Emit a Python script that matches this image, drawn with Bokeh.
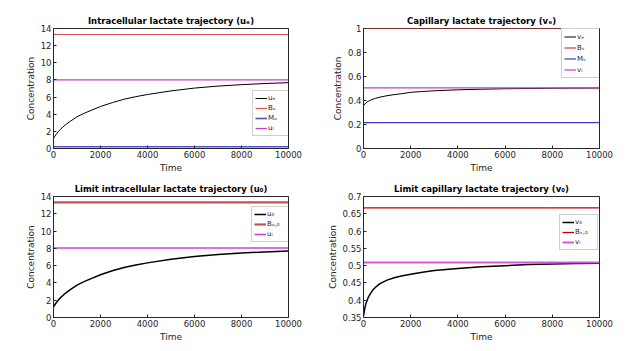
from bokeh.plotting import figure
from bokeh.layouts import gridplot
from bokeh.models import FixedTicker, Legend, LegendItem
from bokeh.embed import file_html
from bokeh.resources import INLINE

# ---- data ----
time = [0, 50, 100, 200, 300, 400, 500, 700, 1000, 1300, 1600, 2000, 2500,
        3000, 3500, 4000, 5000, 6000, 7000, 8000, 9000, 10000]
u_e = [1.15, 1.4, 1.6, 1.95, 2.25, 2.5, 2.75, 3.15, 3.7, 4.1, 4.45, 4.9, 5.35,
       5.75, 6.05, 6.3, 6.72, 7.05, 7.28, 7.45, 7.58, 7.68]
B_u, M_u, u_l = 13.3, 0.2, 8.0
v_e = [0.355, 0.37, 0.38, 0.393, 0.403, 0.411, 0.418, 0.428, 0.44, 0.449, 0.456,
       0.468, 0.475, 0.481, 0.485, 0.489, 0.494, 0.498, 0.5, 0.502, 0.503, 0.504]
B_v, M_v, v_l = 1.0, 0.215, 0.505
u_0 = [1.2, 1.45, 1.65, 2.0, 2.3, 2.55, 2.8, 3.2, 3.75, 4.15, 4.5, 4.95, 5.4,
       5.78, 6.08, 6.32, 6.74, 7.06, 7.3, 7.46, 7.59, 7.7]
B_u0, u_l0 = 13.33, 8.04
v_0 = [0.355, 0.375, 0.39, 0.408, 0.42, 0.43, 0.437, 0.448, 0.458, 0.465, 0.47,
       0.475, 0.481, 0.486, 0.489, 0.492, 0.497, 0.5, 0.503, 0.505, 0.506, 0.507]
B_v0, v_l0 = 0.667, 0.509

x_ticks = [0, 2000, 4000, 6000, 8000, 10000]
y_ticks_u = [0, 2, 4, 6, 8, 10, 12, 14]
y_ticks_v = [0, 0.2, 0.4, 0.6, 0.8, 1]
y_ticks_v0 = [0.35, 0.4, 0.45, 0.5, 0.55, 0.6, 0.65, 0.7]

FONT = "DejaVu Sans"
TXT = "#262626"


def make_fig(title, w, h, bl, br, bt, bb, yr, yticks):
    p = figure(width=w, height=h, x_range=(0, 10000), y_range=yr,
               output_backend="svg", toolbar_location=None,
               min_border_left=bl, min_border_right=br,
               min_border_top=bt, min_border_bottom=bb,
               title=title)
    p.title.text_font = FONT
    p.title.text_font_size = "8.5px"
    p.title.text_font_style = "bold"
    p.title.text_color = "#000000"
    p.title.align = "center"
    p.title.standoff = 5
    p.title.offset = 0
    p.grid.visible = False
    p.outline_line_color = TXT
    p.outline_line_alpha = 1
    p.background_fill_color = "white"
    p.border_fill_color = "white"
    p.xaxis.ticker = FixedTicker(ticks=x_ticks)
    p.yaxis.ticker = FixedTicker(ticks=yticks)
    p.yaxis.major_label_overrides = {t: f"{t:g}" for t in yticks}
    p.xaxis.major_label_overrides = {t: f"{t:g}" for t in x_ticks}
    for ax in (p.xaxis, p.yaxis):
        ax.axis_line_color = TXT
        ax.major_tick_line_color = TXT
        ax.major_tick_in = 3
        ax.major_tick_out = 0
        ax.minor_tick_line_color = None
        ax.major_label_text_font = FONT
        ax.major_label_text_font_size = "8.5px"
        ax.major_label_text_color = TXT
        ax.axis_label_text_font = FONT
        ax.axis_label_text_font_size = "9px"
        ax.axis_label_text_font_style = "normal"
        ax.axis_label_text_color = TXT
        ax.major_label_standoff = 2
        ax.axis_label_standoff = 2
    p.xaxis.axis_label = "Time"
    p.yaxis.axis_label = "Concentration"
    return p


def add_legend(p, items, loc, height):
    leg = Legend(items=items, location=loc, label_text_font=FONT,
                 label_text_font_size="7px", label_text_color=TXT,
                 glyph_width=12, glyph_height=height, label_height=height,
                 spacing=0, padding=2, margin=0, label_standoff=1,
                 border_line_color="#a0a0a0", background_fill_color="white",
                 background_fill_alpha=1)
    p.add_layout(leg, "center")


# ---- panel 1 ----
p1 = make_fig("Intracellular lactate trajectory (uₑ)", 315, 175, 53, 27, 27, 26,
              (0, 14), y_ticks_u)
r1 = p1.line(time, u_e, line_color="black", line_width=1)
r2 = p1.line([0, 10000], [B_u, B_u], line_color="#e0505a", line_width=1.2)
r3 = p1.line([0, 10000], [M_u, M_u], line_color="#5050c8", line_width=1.6)
r4 = p1.line([0, 10000], [u_l, u_l], line_color="#c83cc8", line_width=1.2)
add_legend(p1, [LegendItem(label="uₑ", renderers=[r1]),
                LegendItem(label="Bᵤ", renderers=[r2]),
                LegendItem(label="Mᵤ", renderers=[r3]),
                LegendItem(label="uₗ", renderers=[r4])], (199, 12), 10)

# ---- panel 2 ----
p2 = make_fig("Capillary lactate trajectory (vₑ)", 316, 175, 48, 32, 28, 25,
              (0, 1), y_ticks_v)
s1 = p2.line(time, v_e, line_color="black", line_width=1)
s2 = p2.line([0, 10000], [B_v, B_v], line_color="#d83838", line_width=1.2)
s3 = p2.line([0, 10000], [M_v, M_v], line_color="#3c3cc0", line_width=1.2)
s4 = p2.line([0, 10000], [v_l, v_l], line_color="#c83cc8", line_width=1.2)
add_legend(p2, [LegendItem(label="vₑ", renderers=[s1]),
                LegendItem(label="Bᵥ", renderers=[s2]),
                LegendItem(label="Mᵥ", renderers=[s3]),
                LegendItem(label="vₗ", renderers=[s4])], (198, 70), 11)

# ---- panel 3 ----
p3 = make_fig("Limit intracellular lactate trajectory (u₀)", 315, 176, 53, 27, 21, 34,
              (0, 14), y_ticks_u)
t1 = p3.line(time, u_0, line_color="black", line_width=1.5)
t2 = p3.line([0, 10000], [B_u0, B_u0], line_color="#c85050", line_width=2.2)
t3 = p3.line([0, 10000], [u_l0, u_l0], line_color="#d040d0", line_width=1.6)
add_legend(p3, [LegendItem(label="u₀", renderers=[t1]),
                LegendItem(label="Bᵤ,₀", renderers=[t2]),
                LegendItem(label="uₗ", renderers=[t3])], (198, 75), 10)

# ---- panel 4 ----
p4 = make_fig("Limit capillary lactate trajectory (v₀)", 316, 176, 48, 32, 21, 34,
              (0.35, 0.7), y_ticks_v0)
q1 = p4.line(time, v_0, line_color="black", line_width=1.5)
q2 = p4.line([0, 10000], [B_v0, B_v0], line_color="#c00000", line_width=1.3)
q3 = p4.line([0, 10000], [v_l0, v_l0], line_color="#e050e0", line_width=2)
add_legend(p4, [LegendItem(label="v₀", renderers=[q1]),
                LegendItem(label="Bᵥ,₀", renderers=[q2]),
                LegendItem(label="vₗ", renderers=[q3])], (196, 67), 10)

grid = gridplot([[p1, p2], [p3, p4]], toolbar_location=None)
open("out.html", "w").write(file_html(grid, INLINE))
